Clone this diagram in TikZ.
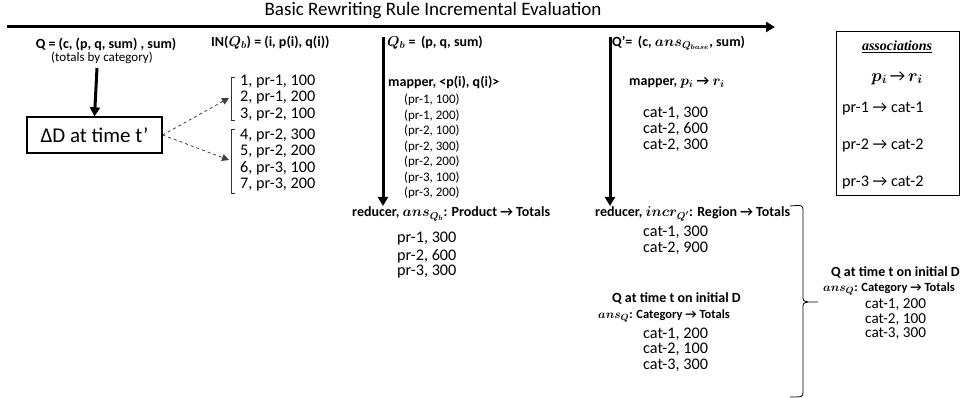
\documentclass[tikz,border=0pt]{standalone}
\usepackage{fontspec}
\usepackage{amsmath,bm}
\setmainfont{Carlito}
\newfontfamily\serifassoc{Liberation Serif}
\newcommand\arr{→}
\usetikzlibrary{arrows.meta}
\begin{document}
\begin{tikzpicture}[x=1pt,y=-1pt,
  hd/.style={anchor=west,inner sep=0pt,font=\fontsize{14}{16}\selectfont\bfseries},
  hdc/.style={inner sep=0pt,font=\fontsize{14}{16}\selectfont\bfseries},
  sub/.style={anchor=west,inner sep=0pt,font=\fontsize{12.5}{14}\selectfont\bfseries},
  bd/.style={anchor=west,inner sep=0pt,font=\fontsize{16.2}{18}\selectfont},
  bdr/.style={anchor=west,inner sep=0pt,font=\fontsize{15.2}{17}\selectfont},
  sm/.style={anchor=west,inner sep=0pt,font=\fontsize{13}{15}\selectfont},
  smc/.style={inner sep=0pt,font=\fontsize{13}{15}\selectfont},
  bigarrow/.style={line width=3pt,-{Triangle[length=9pt,width=10pt]}},
  dasharrow/.style={dashed,line width=0.8pt,draw=black!75,-{Triangle[length=7pt,width=7pt]}},
  brk/.style={line width=0.7pt,draw=black!80},
  boxd/.style={draw,line width=1.3pt,inner sep=0pt}
]
\useasboundingbox (0,0) rectangle (971,398);
% title and timeline
\node[inner sep=0pt,font=\fontsize{19}{21}\selectfont] (title) at (433,11) {Basic Rewriting Rule Incremental Evaluation};
\coordinate (tlA) at (7,27);
\coordinate (tlB) at (775,27);
\draw[bigarrow] (tlA) -- (tlB);

% left column
\node[hdc] (qhead) at (106,44) {Q = (c, (p, q, sum) , sum)};
\node[smc] (qsub) at (102,58) {(totals by category)};
\coordinate (qa) at (97,68);
\node[boxd,minimum width=135pt,minimum height=36pt,font=\fontsize{21}{24}\selectfont] (dD) at (94.5,135) {ΔD at time t’};
\draw[bigarrow] (qa) -- (dD.north);

% IN list
\node[hd] (inhead) at (211,43) {IN($\bm{Q_b}$) = (i, p(i), q(i))};
\coordinate (g1) at (229,98);
\coordinate (g2) at (229,160);
\draw[dasharrow] (dD.east) -- (g1);
\draw[dasharrow] (dD.east) -- (g2);
\draw[brk] (235,77) -- (231,77) -- (231,120) -- (235,120);
\draw[brk] (235,129) -- (231,129) -- (231,193) -- (235,193);
\node[bd] (i1) at (240,82) {1, pr-1, 100};
\node[bd] (i2) at (240,98) {2, pr-1, 200};
\node[bd] (i3) at (240,115) {3, pr-2, 100};
\node[bd] (i4) at (240,136) {4, pr-2, 300};
\node[bd] (i5) at (240,152) {5, pr-2, 200};
\node[bd] (i6) at (240,168) {6, pr-3, 100};
\node[bd] (i7) at (240,185) {7, pr-3, 200};

% Qb column
\coordinate (qbt) at (383,37);
\coordinate (qbb) at (383,206);
\draw[bigarrow] (qbt) -- (qbb);
\node[hd] (qbhead) at (387,43) {$\bm{Q_b}$ =\, (p, q, sum)};
\node[hd] (qbmap) at (388,82) {mapper, <p(i), q(i)>};
\node[sm] (m1) at (404,100) {(pr-1, 100)};
\node[sm] (m2) at (404,115.5) {(pr-1, 200)};
\node[sm] (m3) at (404,131) {(pr-2, 100)};
\node[sm] (m4) at (404,146.5) {(pr-2, 300)};
\node[sm] (m5) at (404,162) {(pr-2, 200)};
\node[sm] (m6) at (404,177.5) {(pr-3, 100)};
\node[sm] (m7) at (404,193) {(pr-3, 200)};
\node[hd] (qbred) at (352,214) {reducer, $\bm{ans_{Q_b}}$: Product \arr{} Totals};
\node[bd] (p1) at (397,239) {pr-1, 300};
\node[bd] (p2) at (397,256) {pr-2, 600};
\node[bd] (p3) at (397,272) {pr-3, 300};

% Q' column
\coordinate (qpt) at (610,37);
\coordinate (qpb) at (610,206);
\draw[bigarrow] (qpt) -- (qpb);
\node[hd] (qphead) at (612,43) {Q’=\, (c, $\bm{ans_{Q_{base}}}$, sum)};
\node[hd] (qpmap) at (629,83) {mapper, $\bm{p_i}$ \arr{} $\bm{r_i}$};
\node[bd] (c1) at (643,113) {cat-1, 300};
\node[bd] (c2) at (643,129) {cat-2, 600};
\node[bd] (c3) at (643,145) {cat-2, 300};
\node[hd] (qpred) at (595,214) {reducer, $\bm{incr_{Q'}}$: Region \arr{} Totals};
\node[bd] (r1) at (643,232) {cat-1, 300};
\node[bd] (r2) at (643,248) {cat-2, 900};
\node[hd] (qthead) at (612,298) {Q at time t on initial D};
\node[sub] (qtsub) at (598,316) {$\bm{ans_Q}$: Category \arr{} Totals};
\node[bd] (t1) at (643,334) {cat-1, 200};
\node[bd] (t2) at (643,349.5) {cat-2, 100};
\node[bd] (t3) at (643,365) {cat-3, 300};

% big bracket
\draw[line width=0.8pt] (790,206) .. controls (803,205) .. (803,212) -- (803,295)
  .. controls (803,301) .. (808,302) -- (818,302);
\draw[line width=0.8pt] (808,302) .. controls (803,303) .. (803,309) -- (803,391)
  .. controls (803,397) .. (790,397);

% right result
\node[hd] (rhead) at (831,272) {Q at time t on initial D};
\node[sub] (rsub) at (823,289) {$\bm{ans_Q}$: Category \arr{} Totals};
\node[bdr] (rr1) at (865,305) {cat-1, 200};
\node[bdr] (rr2) at (865,319.5) {cat-2, 100};
\node[bdr] (rr3) at (865,334) {cat-3, 300};

% associations box
\draw[line width=1pt] (836,32) rectangle (959,196);
\node[inner sep=0pt,font=\fontsize{14}{16}\selectfont\serifassoc\bfseries\itshape] (assoc) at (897,47) {\underline{associations}};
\node[inner sep=0pt,font=\fontsize{17}{19}\selectfont] (pr) at (897,78) {$\bm{p_i}$\,\arr\,$\bm{r_i}$};
\node[bd] (a1) at (842,109) {pr-1 \arr{} cat-1};
\node[bd] (a2) at (842,146) {pr-2 \arr{} cat-2};
\node[bd] (a3) at (842,183) {pr-3 \arr{} cat-2};
\end{tikzpicture}
\end{document}
